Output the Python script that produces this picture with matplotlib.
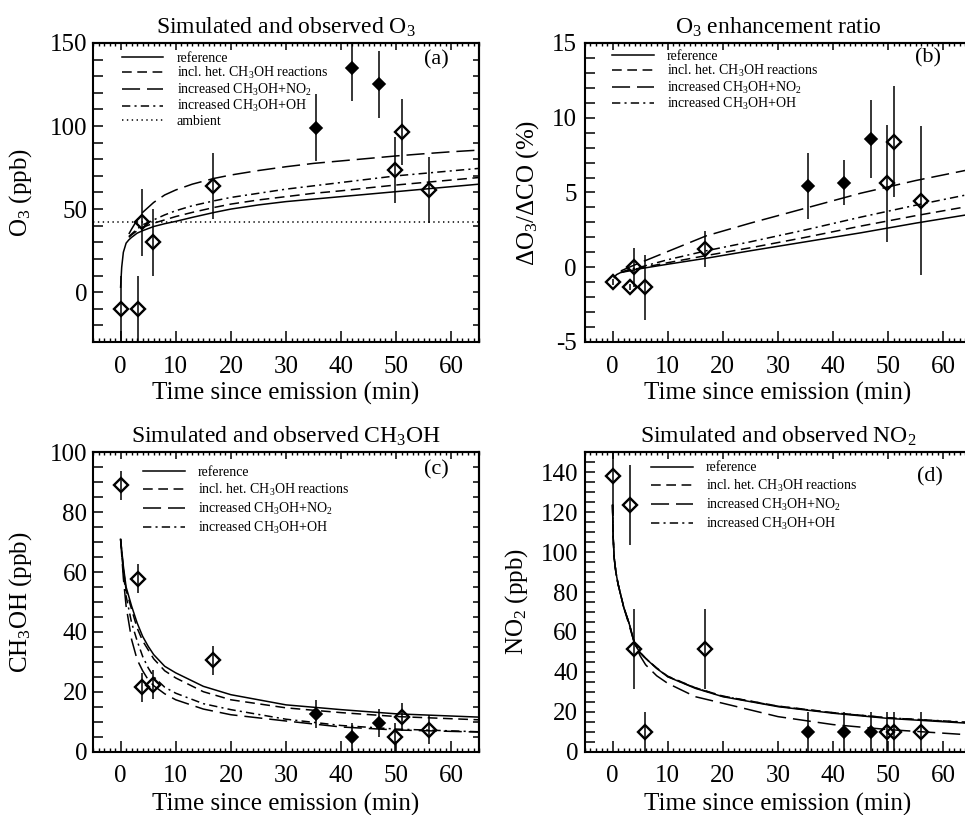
import matplotlib
matplotlib.use('Agg')
import matplotlib.pyplot as plt
from matplotlib.ticker import MultipleLocator, NullFormatter
import numpy as np

plt.rcParams['font.family'] = ['Liberation Serif', 'DejaVu Serif']
plt.rcParams['mathtext.fontset'] = 'custom'
plt.rcParams['mathtext.rm'] = 'Liberation Serif'
plt.rcParams['mathtext.it'] = 'Liberation Serif:italic'
plt.rcParams['mathtext.default'] = 'regular'
plt.rcParams['lines.scale_dashes'] = False
plt.rcParams['axes.unicode_minus'] = False

# ---------------- observations ----------------
obs_time = [0.0, 3.1, 3.8, 5.9, 16.8, 35.4, 42.0, 46.8, 49.7, 51.0, 56.0]
obs_filled = [False, False, False, False, False, True, True, True, False, False, False]

o3_obs = [-10, -10, 42, 30, 64, 99, 135, 125, 73.5, 96.5, 61.5]
o3_err = [20, 20, 20, 20, 20, 20, 20, 20, 20, 20, 20]

ratio_obs = [-1.0, -1.35, 0.0, -1.35, 1.2, 5.45, 5.65, 8.6, 5.6, 8.4, 4.45]
ratio_err = [0.2, 0.2, 1.3, 2.2, 1.2, 2.2, 1.5, 2.6, 3.9, 3.7, 5.0]

ch3oh_obs = [89, 57.8, 21.5, 22.3, 30.5, 12.5, 4.8, 9.5, 4.8, 11.5, 7.3]
ch3oh_err = [4.8, 4.8, 4.8, 4.8, 4.8, 4.8, 4.8, 4.8, 4.8, 4.8, 4.8]

no2_obs = [138, 123.7, 51.3, 10, 51.3, 10, 10, 10, 10, 10, 10]
no2_err = [20, 20, 20, 10, 20, 10, 10, 10, 10, 10, 10]

# ---------------- model curves ----------------
# (a) O3
o3_t_ref = [0.0, 0.2, 0.5, 1.0, 1.5, 2, 3, 4, 6, 8, 10, 13, 17, 20, 25, 30, 35, 40, 45, 50, 55, 60, 65]
o3_ref = [3, 15, 24, 29.5, 31.5, 33, 35.5, 37, 39.5, 41.2, 42.6, 45, 48, 50, 52.5, 54.5, 56, 57.5, 59, 60.5, 62, 63.5, 65]
o3_t_sens = [1.5, 2, 3, 4, 6, 8, 10, 13, 17, 20, 25, 30, 35, 40, 45, 50, 55, 60, 65]
o3_het = [33, 34.5, 37, 39, 41.5, 43.5, 45.5, 48, 51, 53, 55.5, 57.5, 59.5, 61, 62.8, 64.5, 66, 67.5, 69]
o3_no2 = [35, 38, 43.5, 48, 54, 58.5, 61.5, 65, 68.5, 70.5, 73.2, 75.5, 77.5, 79, 80.5, 82, 83.3, 84.5, 85.5]
o3_oh = [33.5, 35, 38, 40.5, 43.5, 46.5, 49, 52, 55, 57, 59.5, 62, 64, 66, 68, 70, 71.5, 73, 74.5]
o3_ambient = 42

# (b) enhancement ratio
ratio_t_ref = [0.3, 0.7, 1.5, 3, 5, 10, 17, 25, 35, 45, 55, 65]
ratio_ref = [-0.7, -0.5, -0.35, -0.25, -0.1, 0.2, 0.6, 1.1, 1.7, 2.3, 2.95, 3.55]
ratio_t_sens = [1.5, 3, 5, 10, 17, 25, 35, 45, 55, 65]
ratio_het = [-0.35, -0.2, -0.06, 0.3, 0.78, 1.3, 2.0, 2.75, 3.45, 4.1]
ratio_no2 = [-0.25, 0.0, 0.3, 1.05, 2.1, 2.95, 3.95, 4.95, 5.8, 6.55]
ratio_oh = [-0.35, -0.15, 0.0, 0.5, 1.1, 1.7, 2.5, 3.35, 4.15, 4.9]

# (c) CH3OH
ch3oh_t = [0, 0.5, 1, 2, 3, 4, 5, 6, 8, 10, 15, 20, 30, 40, 50, 65]
ch3oh_ref = [71, 62, 55, 48.6, 43, 38.5, 35.2, 32.4, 28.5, 26.3, 21.8, 19, 15.6, 14, 12.6, 11.5]
ch3oh_het = [71, 61, 54, 47.5, 41.3, 37, 34, 31, 27, 24.6, 20, 17.3, 14.6, 13, 11.7, 10.6]
ch3oh_no2 = [71, 58, 48.6, 37.4, 30.7, 27, 24, 22, 19.3, 17.3, 14.2, 12.3, 10.2, 8.2, 7.2, 6.5]
ch3oh_oh = [71, 60, 52, 43, 37, 31.8, 28, 25, 21.5, 19.5, 16, 14, 10.8, 8.7, 7.5, 6.6]

# (d) NO2
no2_t = [0, 0.1, 0.3, 0.6, 1, 2, 3, 4, 5, 6, 8, 10, 15, 20, 30, 40, 50, 65]
no2_ref = [123.7, 108, 97, 90, 84, 72.7, 64.3, 54, 49.5, 46.7, 41.7, 37.5, 31.7, 27.5, 22.5, 19.2, 16.6, 14.1]
no2_het = [123.7, 108, 97, 90, 84, 72.7, 64.3, 54.2, 49.7, 46.8, 41.9, 37.8, 32.0, 27.8, 22.8, 19.5, 16.9, 14.4]
no2_no2 = [123.7, 108, 97, 90, 84, 72.5, 63.5, 54, 48, 43.5, 38, 34.2, 27.5, 24.2, 17.5, 13.5, 11.0, 8.3]
no2_oh = [123.7, 108, 97, 90, 84, 72.7, 64.3, 54.1, 49.6, 46.7, 41.8, 37.6, 31.9, 27.7, 22.7, 19.4, 16.9, 14.6]

labels = ['reference', 'incl. het. CH$_3$OH reactions', 'increased CH$_3$OH+NO$_2$',
          'increased CH$_3$OH+OH', 'ambient']

# ---------------- styles ----------------
LW = 1.1
st_ref = dict(color='black', lw=LW, ls='-')
st_het = dict(color='black', lw=LW, ls=(0, (7, 4)))
st_no2 = dict(color='black', lw=LW, ls=(0, (13, 5)))
st_oh = dict(color='black', lw=LW, ls=(0, (6, 3, 1.5, 3)))
st_amb = dict(color='black', lw=LW, ls=(0, (1, 2.5)))

fig = plt.figure(figsize=(9.65, 8.15), dpi=100)
W, H = 0.4, 0.3669
ax_a = fig.add_axes([0.0964, 0.5804, W, H])
ax_b = fig.add_axes([0.6062, 0.5804, W, H])
ax_c = fig.add_axes([0.0964, 0.0779, W, H])
ax_d = fig.add_axes([0.6062, 0.0779, W, H])

filled = np.array(obs_filled)
t_obs = np.array(obs_time)


def draw_obs(ax, y, e):
    y = np.array(y, dtype=float)
    e = np.array(e, dtype=float)
    ax.errorbar(t_obs, y, yerr=e, fmt='none', ecolor='black', elinewidth=1.1, capsize=0, zorder=3)
    ax.plot(t_obs[~filled], y[~filled], ls='none', marker='D', ms=6.8, mew=1.7,
            mfc='none', mec='black', zorder=4)
    ax.plot(t_obs[filled], y[filled], ls='none', marker='D', ms=6.6, mew=1.2,
            mfc='black', mec='black', zorder=4)


def style_axis(ax, ylim, ymaj, ymin, ypad, ylab_x, xlab_y):
    ax.set_xlim(-5, 65)
    ax.set_ylim(*ylim)
    ax.xaxis.set_major_locator(MultipleLocator(10))
    ax.xaxis.set_minor_locator(MultipleLocator(1))
    ax.yaxis.set_major_locator(MultipleLocator(ymaj))
    ax.yaxis.set_minor_locator(MultipleLocator(ymin))
    ax.tick_params(axis='x', which='major', direction='in', length=8, width=1.1,
                   top=False, labelsize=18, pad=10)
    ax.tick_params(axis='x', which='minor', direction='in', length=3, width=1.0, top=False)
    ax.tick_params(axis='y', which='both', direction='in', length=7, width=1.1,
                   right=False, labelsize=18, pad=ypad)
    for s in ax.spines.values():
        s.set_linewidth(1.5)
    secx = ax.secondary_xaxis('top')
    secx.xaxis.set_major_locator(MultipleLocator(10))
    secx.xaxis.set_minor_locator(MultipleLocator(1))
    secx.xaxis.set_major_formatter(NullFormatter())
    secx.tick_params(which='major', direction='in', length=5, width=1.1)
    secx.tick_params(which='minor', direction='in', length=2.5, width=1.0)
    secx.spines['top'].set_linewidth(1.5)
    secy = ax.secondary_yaxis('right')
    secy.yaxis.set_major_locator(MultipleLocator(ymin))
    secy.yaxis.set_major_formatter(NullFormatter())
    secy.tick_params(which='major', direction='in', length=4, width=1.1)
    secy.spines['right'].set_linewidth(1.5)
    ax.set_xlabel('Time since emission (min)', fontsize=18)
    ax.xaxis.set_label_coords(0.5, xlab_y)
    ax.yaxis.set_label_coords(ylab_x, 0.5)


def add_legend(ax, handles, labs, anchor, spacing):
    ax.legend(handles, labs, loc='upper left', bbox_to_anchor=anchor,
              frameon=False, fontsize=10, handlelength=3.0, handletextpad=0.95,
              labelspacing=spacing, borderaxespad=0, borderpad=0)


# ---- (a) ----
ax = ax_a
h1, = ax.plot(o3_t_ref, o3_ref, **st_ref)
h2, = ax.plot(o3_t_sens, o3_het, **st_het)
h3, = ax.plot(o3_t_sens, o3_no2, **st_no2)
h4, = ax.plot(o3_t_sens, o3_oh, **st_oh)
h5 = ax.axhline(o3_ambient, **st_amb)
draw_obs(ax, o3_obs, o3_err)
style_axis(ax, (-30, 150), 50, 10, 4, -0.153, -0.135)
ax.set_ylabel('O$_3$ (ppb)', fontsize=18)
ax.set_title('Simulated and observed O$_3$', fontsize=17, pad=7)
add_legend(ax, [h1, h2, h3, h4, h5], labels, (0.0744, 0.97), 0.03)
ax.text(0.89, 0.943, '(a)', transform=ax.transAxes, fontsize=16, ha='center', va='center')

# ---- (b) ----
ax = ax_b
h1, = ax.plot(ratio_t_ref, ratio_ref, **st_ref)
h2, = ax.plot(ratio_t_sens, ratio_het, **st_het)
h3, = ax.plot(ratio_t_sens, ratio_no2, **st_no2)
h4, = ax.plot(ratio_t_sens, ratio_oh, **st_oh)
draw_obs(ax, ratio_obs, ratio_err)
style_axis(ax, (-5, 15), 5, 1, 6, -0.114, -0.135)
ax.set_ylabel('ΔO$_3$/ΔCO (%)', fontsize=18)
ax.set_title('O$_3$ enhancement ratio', fontsize=17, pad=7)
add_legend(ax, [h1, h2, h3, h4], labels[:4], (0.070, 0.978), 0.03)
ax.text(0.889, 0.949, '(b)', transform=ax.transAxes, fontsize=16, ha='center', va='center')

# ---- (c) ----
ax = ax_c
h1, = ax.plot(ch3oh_t, ch3oh_ref, **st_ref)
h2, = ax.plot(ch3oh_t, ch3oh_het, **st_het)
h3, = ax.plot(ch3oh_t, ch3oh_no2, **st_no2)
h4, = ax.plot(ch3oh_t, ch3oh_oh, **st_oh)
draw_obs(ax, ch3oh_obs, ch3oh_err)
style_axis(ax, (0, 100), 20, 5, 4, -0.154, -0.137)
ax.set_ylabel('CH$_3$OH (ppb)', fontsize=18)
ax.set_title('Simulated and observed CH$_3$OH', fontsize=17, pad=7)
add_legend(ax, [h1, h2, h3, h4], labels[:4], (0.1295, 0.955), 0.22)
ax.text(0.89, 0.9415, '(c)', transform=ax.transAxes, fontsize=16, ha='center', va='center')

# ---- (d) ----
ax = ax_d
h1, = ax.plot(no2_t, no2_ref, **st_ref)
h2, = ax.plot(no2_t, no2_het, **st_het)
h3, = ax.plot(no2_t, no2_no2, **st_no2)
h4, = ax.plot(no2_t, no2_oh, **st_oh)
draw_obs(ax, no2_obs, no2_err)
style_axis(ax, (0, 150), 20, 5, 5, -0.142, -0.137)
ax.set_ylabel('NO$_2$ (ppb)', fontsize=18)
ax.set_title('Simulated and observed NO$_2$', fontsize=17, pad=7)
add_legend(ax, [h1, h2, h3, h4], labels[:4], (0.171, 0.97), 0.22)
ax.text(0.894, 0.919, '(d)', transform=ax.transAxes, fontsize=16, ha='center', va='center')

fig.savefig('out.png', dpi=100)
